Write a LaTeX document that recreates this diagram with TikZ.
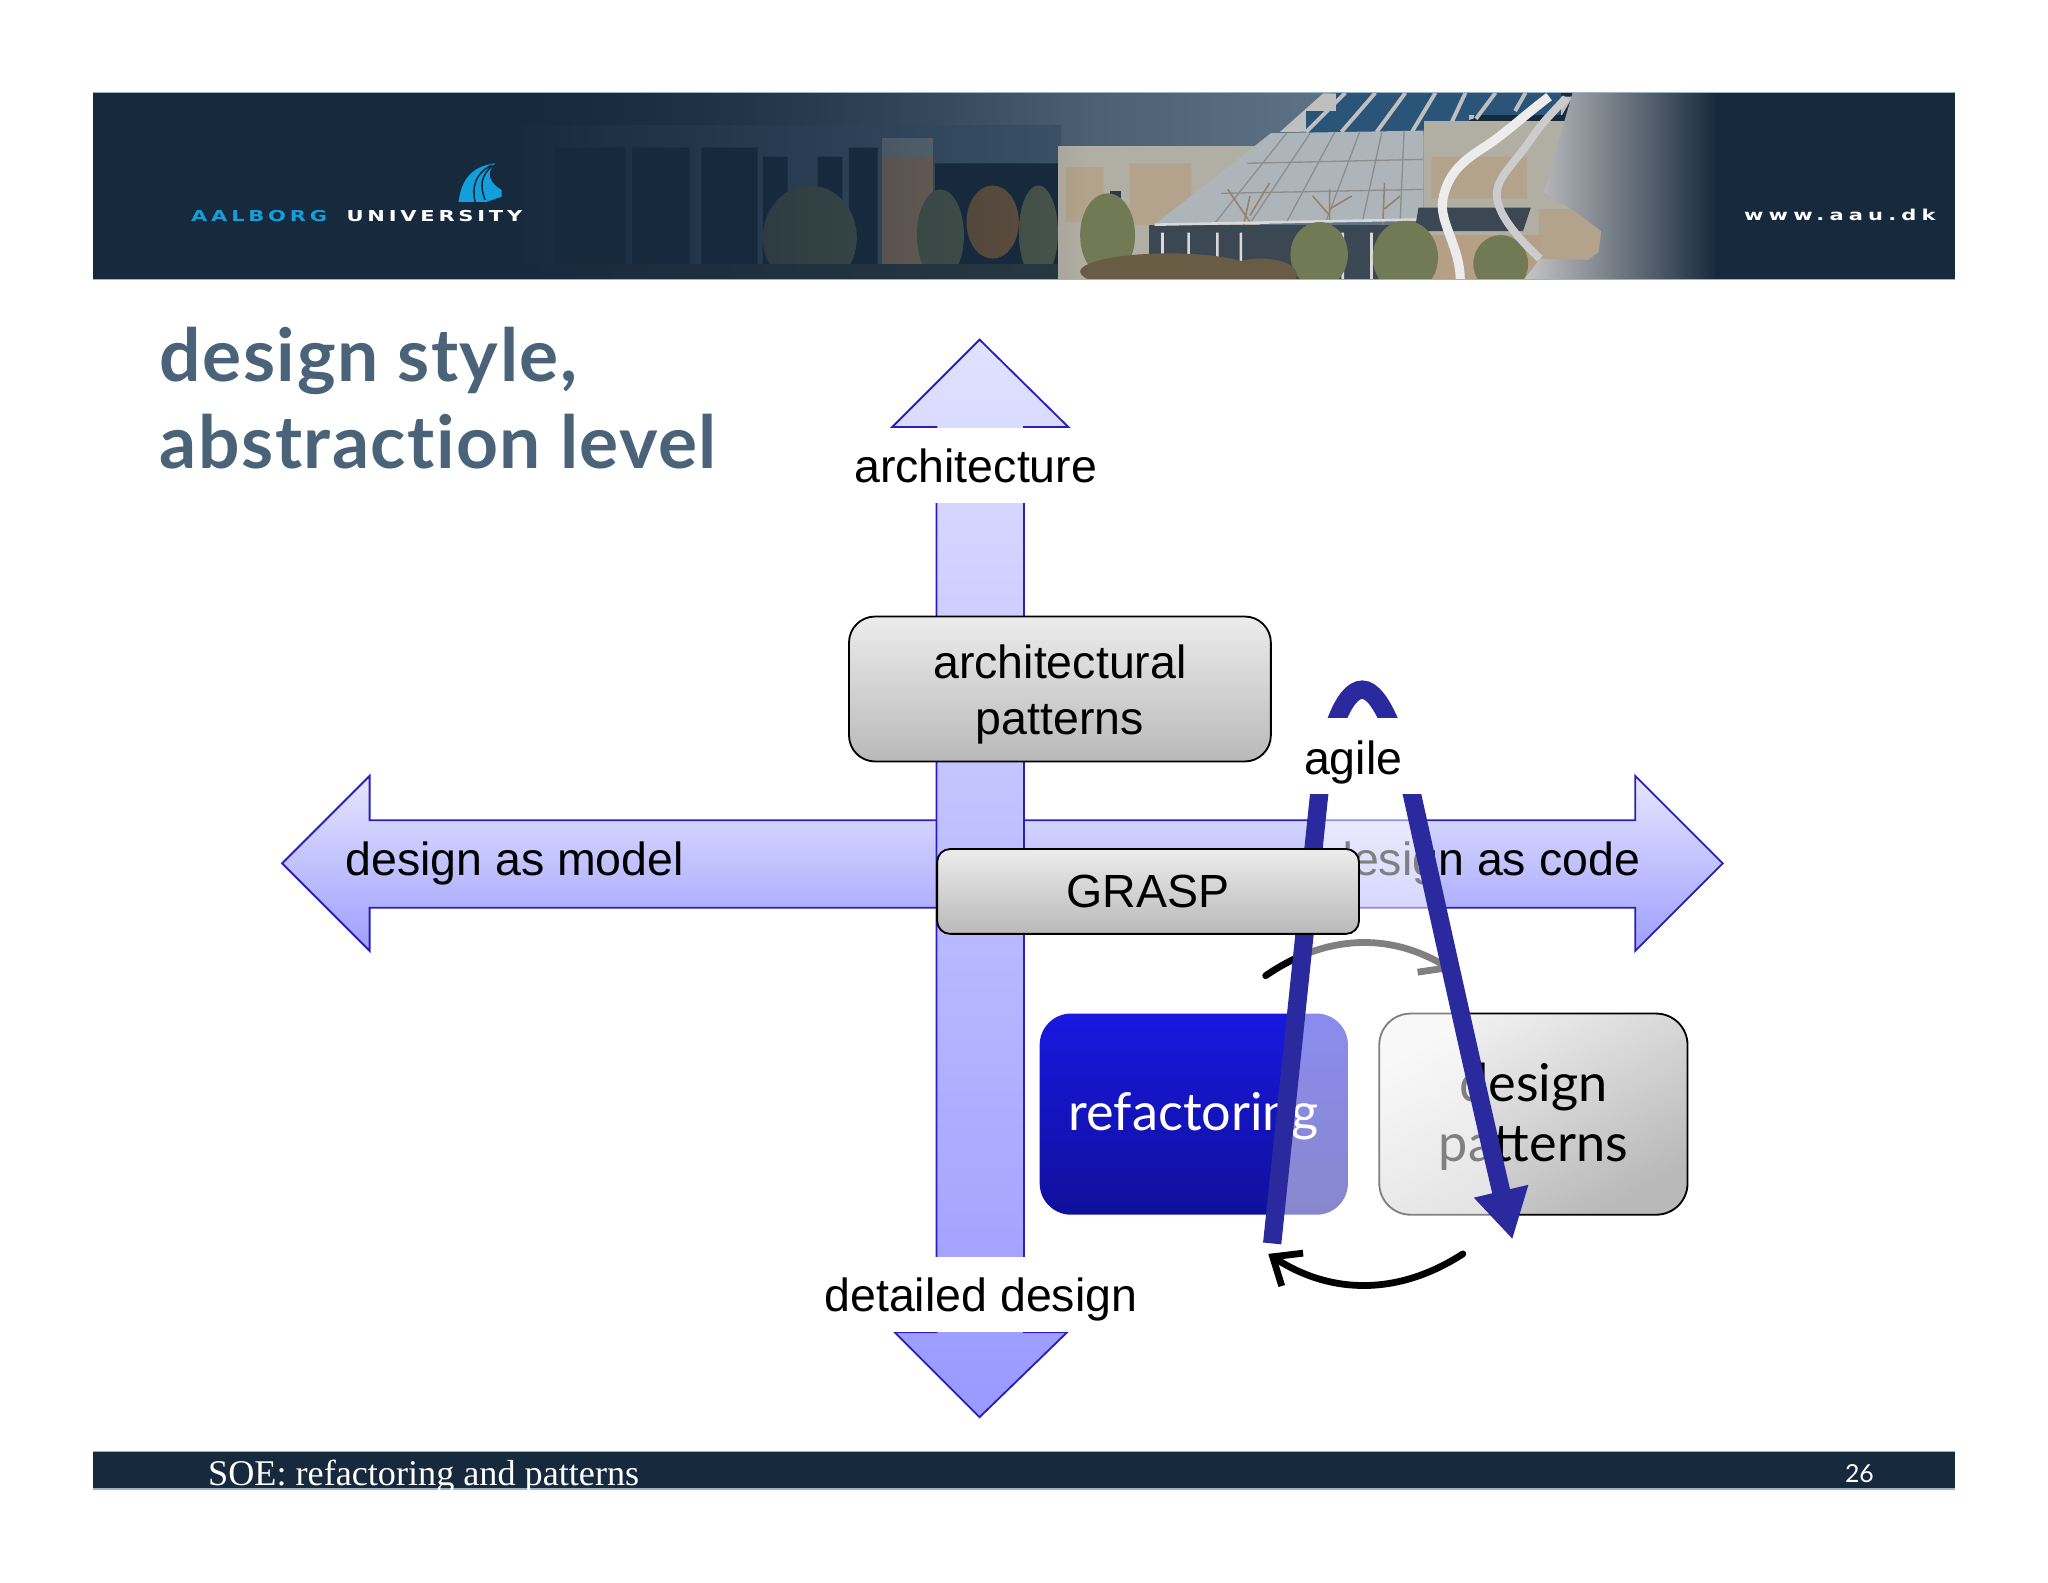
\documentclass[tikz,border=0pt]{standalone}
\usepackage{fontspec}
\setmainfont{Liberation Sans}
\newfontfamily\gillfont{Lato}
\newfontfamily\gillbold[LetterSpace=2,Ligatures=NoCommon]{Lato Bold}
\newfontfamily\serifont{Liberation Serif}
\newfontfamily\bannerfont[FakeStretch=1.4,LetterSpace=25]{DejaVu Sans Bold}
\newfontfamily\webfont[FakeStretch=1.4,LetterSpace=34]{DejaVu Sans Bold}
\usetikzlibrary{arrows.meta,fadings}
\definecolor{navy}{HTML}{17293D}
\definecolor{slate}{HTML}{4B6379}
\definecolor{edgeblue}{HTML}{2A1FB8}
\definecolor{agileblue}{HTML}{2A2A9E}
\definecolor{aaublue}{HTML}{12A0DC}
\definecolor{stone}{HTML}{B1AEA3}
\definecolor{brick}{HTML}{B3A38C}
\definecolor{glass}{HTML}{AEB5BA}
\definecolor{pane}{HTML}{2A5478}
\definecolor{leaf}{HTML}{717A55}
\definecolor{refactortop}{HTML}{1818E0}
\definecolor{refactorbottom}{HTML}{10109C}
\definecolor{rim}{HTML}{9DB2C6}
\newcommand{\agileloop}{(974,952) -- (1010,608)
  .. controls (1016,565) and (1028,528) .. (1043,528) .. controls (1058,528) and (1072,570) .. (1081,608)
  .. controls (1097,680) and (1130,830) .. (1158,949)}
\tikzset{
  crossarrow/.style={draw=edgeblue, line width=.7pt},
  axislabel/.style={fill=white, inner sep=0pt, font=\fontsize{17.8}{21.5}\selectfont},
  arrowlabel/.style={inner sep=0pt, font=\fontsize{17.8}{21.5}\selectfont},
  greybox/.style={draw=black, line width=.7pt, top color=gray!15, bottom color=gray!55,
    inner sep=0pt, align=center, font=\fontsize{17.8}{21.5}\selectfont},
  turnarrow/.style={line width=2.6pt, line cap=round, -{Straight Barb[length=9pt,width=15pt]}},
}
\begin{document}
\begin{tikzpicture}[x=.5pt, y=-.5pt]
        \useasboundingbox (0,0) rectangle (1568,1211.3);
        % banner
        \scope
        \clip (71,71) rectangle (1497,214);
        \fill[navy] (71,71) rectangle (1497,214);
        \shade[left color=navy!80!slate, right color=slate!85!white] (390,71) rectangle (1100,214);
        % left wing
        \fill[slate!70!navy] (400,96) rectangle (812,214);
        \fill[navy] (424,113) rectangle (479,214) (484,113) rectangle (528,214) (537,113) rectangle (580,214)
          (584,120) rectangle (603,214) (626,120) rectangle (645,214) (650,113) rectangle (672,214)
          (716,125) rectangle (810,214);
        \fill[gray!50!slate] (675,106) rectangle (714,121);
        \fill[brown!45!gray!75!navy] (675,121) rectangle (714,214);
        \fill[leaf!55!navy] (620,182) ellipse (36 and 40) (720,180) ellipse (18 and 35) (795,178) ellipse (15 and 36);
        \fill[brown!45!navy] (760,170) ellipse (20 and 28);
        \fill[navy!80!leaf] (400,202) rectangle (812,214);
        % main hall
        \fill[stone] (810,112) rectangle (965,214);
        \fill[brick] (816,128) rectangle (845,170) (865,125) rectangle (912,172);
        \fill[navy!80!gray] (850,146) rectangle (858,170);
        \fill[gray!50!white] (1013,71.5) -- (1204,74) -- (1196,88) -- (1131,82) -- (1128,91) -- (1090,100) -- (980,101) -- cycle;
        \draw[pane, line width=9pt] (1023,79) -- (1195,79) (1000,94) -- (1125,94);
        \draw[gray!50!white, line width=1.5pt] (1030,71) -- (1000,101) (1053,71) -- (1027,101) (1076,71) -- (1054,101)
          (1099,71) -- (1081,101) (1122,71) -- (1108,101) (1145,71) -- (1130,91) (1168,71) -- (1160,85);
        \fill[glass] (973,102) -- (1090,100) -- (1090,168) -- (884,172) -- cycle;
        \draw[gray!75!glass, line width=.5pt] (985,102) -- (930,171) (1003,102) -- (957,171) (1022,101) -- (985,170) (1041,101) -- (1015,170)
          (1058,101) -- (1043,170) (1075,100) -- (1072,169) (955,125) -- (1090,122) (935,148) -- (1090,145);
        \draw[brown!40!gray, line width=.6pt] (945,205) -- (957,150) (957,170) -- (940,145) (957,165) -- (972,140)
          (1018,190) -- (1018,145) (1018,165) -- (1005,150) (1018,160) -- (1035,150) (1058,190) -- (1060,140) (1060,160) -- (1072,150);
        \fill[navy!65!gray] (880,172) rectangle (1090,214);
        \draw[white!70!gray, line width=1pt] (884,172) -- (1090,168) (890,178) -- (890,214) (910,178) -- (910,214)
          (932,178) -- (932,214) (950,178) -- (950,214) (1028,178) -- (1028,214) (1050,178) -- (1050,214);
        % right block
        \fill[stone] (1090,93) rectangle (1235,214);
        \fill[brick] (1096,120) rectangle (1169,152) (1178,160) rectangle (1235,214);
        \fill[navy!65!gray] (1086,159) -- (1172,159) -- (1166,177) -- (1083,177) -- cycle;
        \fill[brown!30!stone] (1095,180) rectangle (1180,214);
        % trees
        \fill[leaf] (848,180) ellipse (21 and 32) (1010,195) ellipse (22 and 25) (1076,197) ellipse (25 and 28) (1149,202) ellipse (21 and 22);
        \fill[leaf!40!brown!60!navy] (895,208) ellipse (68 and 14) (965,210) ellipse (28 and 12);
        \draw[white!85!gray, line width=3.5pt] (1186,74) .. controls (1165,90) and (1155,100) .. (1139,111)
          .. controls (1125,120) and (1108,130) .. (1104.5,154) .. controls (1102,170) and (1118,190) .. (1118,214);
        \draw[gray!40!white, line width=3pt] (1199,75) .. controls (1185,90) and (1180,95) .. (1172.5,106)
          .. controls (1160,125) and (1146,135) .. (1146,149) .. controls (1146,165) and (1165,185) .. (1179,198);
        % fades
        \fill[navy, path fading=east] (385,71) rectangle (830,214);
        \shade[left color=gray!45!white, right color=navy] (1204,71) -- (1315,71) -- (1315,214) -- (1167,214) -- (1179,198)
          -- (1216,199) -- (1224,193) -- (1226,177) -- (1206,162) -- (1182,147) -- (1191,116) -- cycle;
        \endscope
        \draw[rim, line width=.4pt] (71,71) -- (1497,71) (71,214) -- (1497,214);
        % logo
        \fill[aaublue] (379,125) .. controls (360,127.7) and (353.5,138) .. (351,154.5) -- (372.6,154.5) -- (384.1,150.6) -- (384.1,145.5)
          .. controls (375.2,140.4) and (371.4,132.8) .. (379,125) -- cycle;
        \draw[navy, line width=.6pt] (376.5,126.4) .. controls (363.7,132.8) and (361.2,143) .. (363.7,154.5)
          (377.8,126.4) .. controls (367.5,134) and (367.5,143) .. (371.4,153);
        \node[anchor=base west, inner sep=0pt, text=aaublue, font=\bannerfont\fontsize{5.75}{8}\selectfont] (aalborg) at (146,169.3) {AALBORG};
        \node[anchor=base west, inner sep=0pt, text=white, font=\bannerfont\fontsize{5.75}{8}\selectfont] (aau) at (265,169.3) {UNIVERSITY};
        \node[anchor=base west, inner sep=0pt, text=white, font=\webfont\fontsize{5.75}{8}\selectfont] (www) at (1335,168.5) {www.aau.dk};
        % title
        \node[anchor=base west, inner sep=0pt, text=slate, font=\gillbold\fontsize{28}{33}\selectfont] (title) at (122,292) {design style,};
        \node[anchor=base west, inner sep=0pt, text=slate, font=\gillbold\fontsize{28}{33}\selectfont] (subtitle) at (122,359) {abstraction level};
        % horizontal
        \draw[crossarrow, top color=blue!10, bottom color=blue!38] (216,661) -- (283,594) -- (283,628) -- (1252,628)
          -- (1252,594) -- (1319,661) -- (1252,728) -- (1252,695) -- (283,695) -- (283,728) -- cycle;
        \node[arrowlabel, anchor=base west] (model) at (264,670) {design as model};
        \node[arrowlabel, anchor=base east] (code) at (1256,670) {design as code};
        % vertical
        \draw[crossarrow, top color=blue!12, bottom color=blue!40] (750,260) -- (818,327) -- (784,327) -- (784,1020)
          -- (817,1020) -- (750,1085) -- (685,1020) -- (717,1020) -- (717,327) -- (683,327) -- cycle;
        \node[axislabel, minimum width=96pt, minimum height=28.5pt] (architecture) at (747,356.5) {architecture};
        \node[axislabel, minimum width=120pt, minimum height=29pt] (detailed) at (751,991) {\rule{0pt}{17pt}detailed design};
        % boxes
        \node[greybox, rounded corners=10pt, minimum width=161.5pt, minimum height=55.5pt] (archpatterns) at (811.5,527.5) {\rule{0pt}{17pt}architectural\\patterns};
        \draw[turnarrow] (969,747) to[bend left=33] (1112,743);
        \draw[turnarrow] (1120,960) to[bend left=33] (971,960);
        \node[rounded corners=12pt, top color=refactortop, bottom color=refactorbottom, minimum width=118pt, minimum height=77pt,
          inner sep=0pt, text=white, font=\gillfont\fontsize{20}{24}\selectfont] (refactoring) at (914,853) {\rule{0pt}{16pt}refactoring};
        \node[greybox, rounded corners=12pt, minimum width=118pt, minimum height=77pt, top color=gray!10, bottom color=gray!55, shading angle=30,
          font=\gillfont\fontsize{20}{23}\selectfont] (designpatterns) at (1174,853) {\rule{0pt}{17pt}design\\patterns};
        % agile
        \fill[white, fill opacity=.5] \agileloop;
        \draw[line width=7pt, draw=agileblue, -{Triangle[length=19pt,width=20pt]}] \agileloop;
        \node[arrowlabel, fill=white, minimum width=57pt, minimum height=29pt] (agile) at (1036,579) {\rule{0pt}{18pt}agile};
        \node[greybox, rounded corners=5pt, minimum width=161.5pt, minimum height=32.5pt] (grasp) at (879,682.5) {GRASP};
        % footer
        \fill[navy] (71,1111) rectangle (1497,1140);
        \draw[rim, line width=.4pt] (71,1111) -- (1497,1111) (71,1140) -- (1497,1140);
        \node[anchor=base west, inner sep=0pt, text=white, font=\serifont\fontsize{13.85}{16}\selectfont] (soe) at (159,1137) {SOE: refactoring and patterns};
        \node[anchor=base east, inner sep=0pt, text=white, font=\gillfont\fontsize{9.5}{12}\selectfont] (page) at (1435,1135) {26};
      \end{tikzpicture}
\end{document}
